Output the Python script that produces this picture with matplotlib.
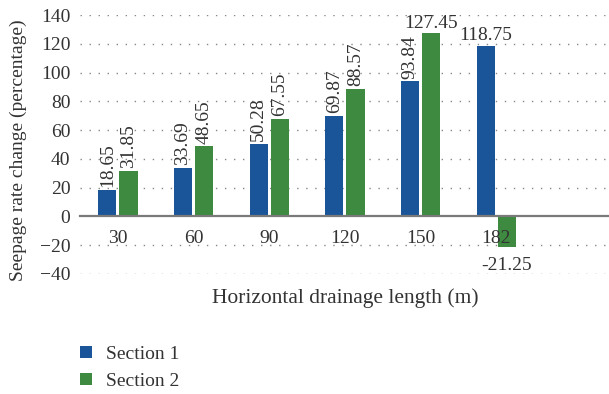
import matplotlib
matplotlib.use('Agg')
import matplotlib.pyplot as plt
import numpy as np

lengths = ['30', '60', '90', '120', '150', '182']
section1 = [18.65, 33.69, 50.28, 69.87, 93.84, 118.75]
section2 = [31.85, 48.65, 67.55, 88.57, 127.45, -21.25]
yticks = [-40, -20, 0, 20, 40, 60, 80, 100, 120, 140]

blue = '#1b5599'
green = '#3e8a40'
text_col = '#333333'


def label_bars(ax, bars, vals):
    for b, v in zip(bars, vals):
        x = b.get_x() + b.get_width() / 2
        if v < 0:
            ax.annotate(f'{v:.2f}', (x, v), xytext=(0, -7), textcoords='offset points',
                        ha='center', va='top', fontsize=14, color=text_col)
        elif v > 100:
            ax.annotate(f'{v:.2f}', (x, v), xytext=(0, 1), textcoords='offset points',
                        ha='center', va='bottom', fontsize=14, color=text_col)
        else:
            ax.annotate(f'{v:.2f}', (x, v), xytext=(0, 2), textcoords='offset points',
                        ha='center', va='bottom', rotation=90, fontsize=14, color=text_col)


def main():
    plt.rcParams['font.family'] = ['Liberation Serif', 'DejaVu Serif']
    fig = plt.figure(figsize=(6.09, 3.94), dpi=100)
    ax = fig.add_axes([80 / 609, 1 - 274 / 394, 529 / 609, (274 - 15) / 394])

    x = np.arange(len(lengths))
    w = 0.24
    b1 = ax.bar(x - 0.14, section1, w, color=blue, label='Section 1', zorder=2)
    b2 = ax.bar(x + 0.14, section2, w, color=green, label='Section 2', zorder=2)
    label_bars(ax, b1, section1)
    label_bars(ax, b2, section2)

    ax.set_xlim(-0.5, 6.49)
    ax.set_ylim(-40, 140)
    ax.set_yticks(yticks)
    ax.set_xticks(x)
    ax.set_xticklabels(lengths)
    ax.tick_params(length=0, labelsize=14, colors=text_col)
    ax.tick_params(axis='y', pad=7)
    ax.tick_params(axis='x', pad=10)

    for s in ['top', 'right', 'left']:
        ax.spines[s].set_visible(False)
    ax.spines['bottom'].set_position(('data', 0))
    ax.spines['bottom'].set_color('#7a7a7a')
    ax.spines['bottom'].set_linewidth(1.6)
    ax.spines['bottom'].set_zorder(3)

    # dotted grid drawn under the bars
    for t in yticks:
        if t != 0:
            ax.axhline(t, color='#888888', linewidth=1.0, linestyle=(0, (1, 5.5)), zorder=0.5)
    ax.set_axisbelow(False)

    fig.text(18 / 609, 1 - 150 / 394, 'Seepage rate change (percentage)', rotation=90,
             ha='center', va='center', fontsize=14, color=text_col)
    fig.text(345 / 609, 1 - 298 / 394, 'Horizontal drainage length (m)',
             ha='center', va='center', fontsize=15.5, color=text_col)

    fig.legend(handles=[b1, b2], loc='upper left', bbox_to_anchor=(80 / 609, 1 - 346 / 394),
               frameon=False, fontsize=14, handlelength=0.6, handleheight=0.6,
               handletextpad=0.75, labelspacing=0.52, labelcolor=text_col,
               borderpad=0, borderaxespad=0)

    fig.savefig('out.png', dpi=100)


if __name__ == "__main__":
    main()
